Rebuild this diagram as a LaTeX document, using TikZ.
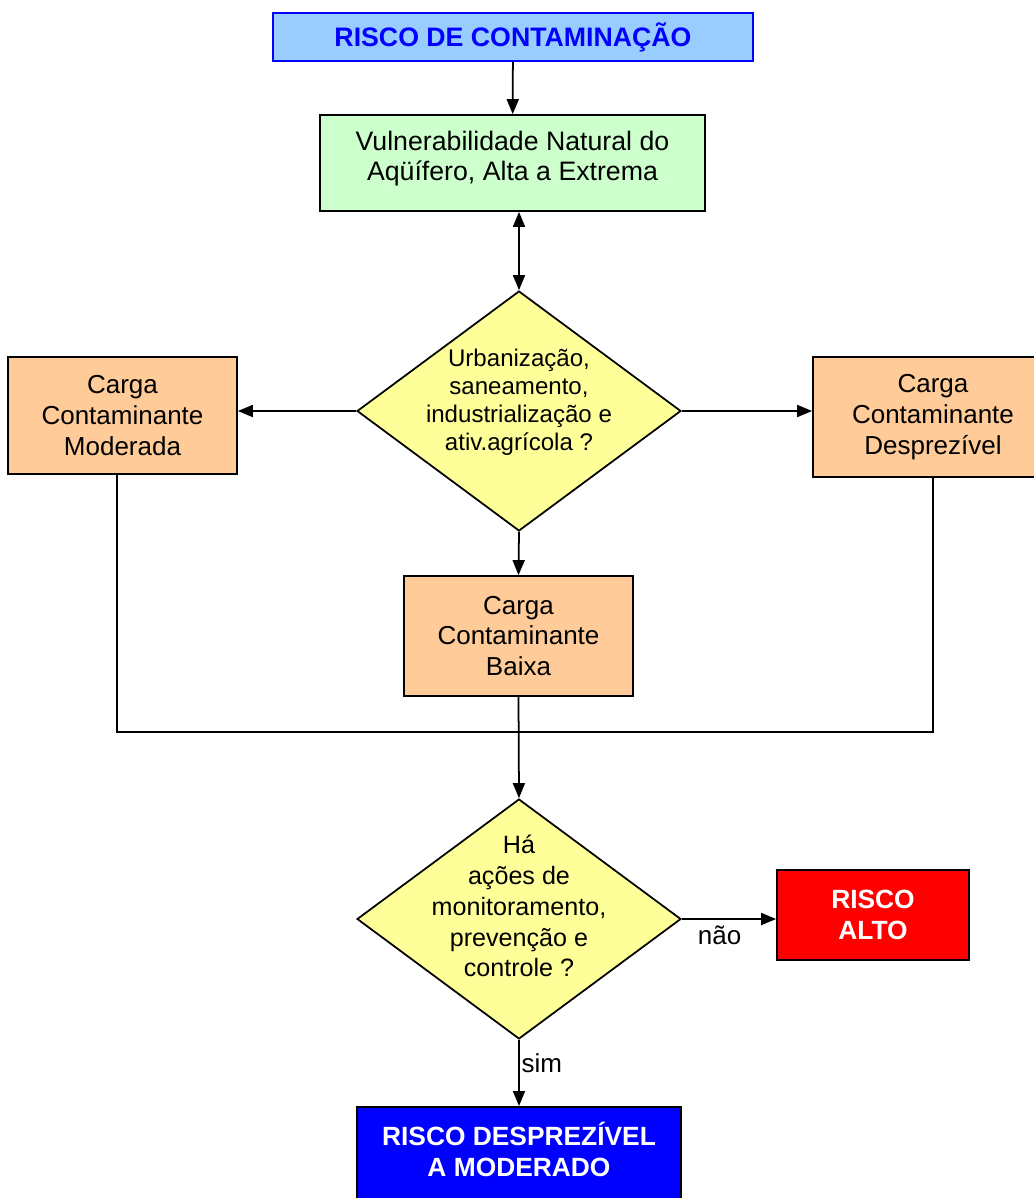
\documentclass[tikz,border=0pt]{standalone}
\usepackage{fontspec}
\setmainfont{Liberation Sans}
\usepackage{xcolor}
\usetikzlibrary{shapes.geometric, arrows.meta, positioning}

\definecolor{titlefill}{HTML}{99CCFF}
\definecolor{vulnfill}{HTML}{CCFFCC}
\definecolor{cargafill}{HTML}{FFCC99}
\definecolor{decfill}{HTML}{FFFF99}

\begin{document}
\begin{tikzpicture}[
    x=0.02cm, y=-0.02cm,
    box/.style={draw, line width=1pt, align=center, inner sep=2pt, font=\fontsize{14.8}{17.6}\selectfont},
    riskbox/.style={draw, line width=1pt, align=center, text=white, font=\fontsize{15}{17.6}\selectfont\bfseries},
    decision/.style={draw, diamond, line width=1pt, fill=decfill, inner sep=0pt, minimum width=6.48cm, minimum height=4.8cm},
    qtext/.style={align=center, inner sep=0pt},
    arrow/.style={-{Triangle[length=3mm, width=2.4mm]}, line width=1pt},
    line/.style={line width=1pt}
]
\useasboundingbox (0,0) rectangle (1034,1198);

\node[box, fill=titlefill, draw=blue, text=blue, minimum width=9.6cm, minimum height=0.96cm,
      font=\fontsize{15.2}{17}\selectfont\bfseries] (risco) at (513,37) {RISCO DE CONTAMINAÇÃO};
\node[box, fill=vulnfill, minimum width=7.7cm, minimum height=1.92cm] (vuln) at (512.5,163) {};
\node[qtext, font=\fontsize{15.2}{17}\selectfont] (vulntxt) at (512.5,159) {Vulnerabilidade Natural do\\Aqüífero, Alta a Extrema};
\draw[arrow] (risco) -- (vuln);

% first question
\node[decision] (q1) at (519,411) {};
\node[qtext, font=\fontsize{13.7}{15.9}\selectfont] (q1txt) at (519,402) {Urbanização,\\saneamento,\\industrialização e\\ativ.agrícola ?};
\draw[{Triangle[length=3mm, width=2.4mm]}-{Triangle[length=3mm, width=2.4mm]}, line width=1pt] (q1.north |- vuln.south) -- (q1.north);

\node[box, fill=cargafill, minimum width=4.58cm, minimum height=2.34cm] (moderada) at (122.5,415.5) {Carga\\Contaminante\\Moderada};
\node[box, fill=cargafill, minimum width=4.8cm, minimum height=2.4cm] (desprezivel) at (933,417) {Carga\\Contaminante\\Desprezível};
\node[box, fill=cargafill, minimum width=4.58cm, minimum height=2.4cm] (baixa) at (518.5,636) {Carga\\Contaminante\\Baixa};
\draw[arrow] (q1.west) -- (q1.west -| moderada.east);
\draw[arrow] (q1.east) -- (q1.east -| desprezivel.west);
\draw[arrow] (q1.south) -- (baixa.north);

% second question
\node[decision] (q2) at (519,919) {};
\node[qtext, font=\fontsize{14.3}{17.6}\selectfont] (q2txt) at (519,906) {Há\\ações de\\monitoramento,\\prevenção e\\controle ?};

\coordinate (junta) at (518,732);
\draw[line] ([xshift=-0.11cm]moderada.south) |- (junta) -| (desprezivel.south);
\draw[arrow] (baixa.south) -- (q2.north);

\node[riskbox, fill=red, minimum width=3.84cm, minimum height=1.8cm] (alto) at (873,915) {RISCO\\ALTO};
\node[riskbox, fill=blue, minimum width=6.48cm, minimum height=2.0cm, anchor=north] (baixo) at (519,1106) {};
\node[qtext, text=white, font=\fontsize{15}{17.6}\selectfont\bfseries] (baixotxt) at (519,1149) {RISCO DESPREZÍVEL\\A MODERADO};

\draw[arrow] (q2.east) -- node[below, pos=0.4, font=\fontsize{14.8}{16}\selectfont] (nao) {não} (q2.east -| alto.west);
\draw[arrow] (q2.south) -- node[right, pos=0.35, inner sep=1pt, font=\fontsize{14.8}{16}\selectfont] (sim) {sim} (baixo.north);

\end{tikzpicture}
\end{document}
